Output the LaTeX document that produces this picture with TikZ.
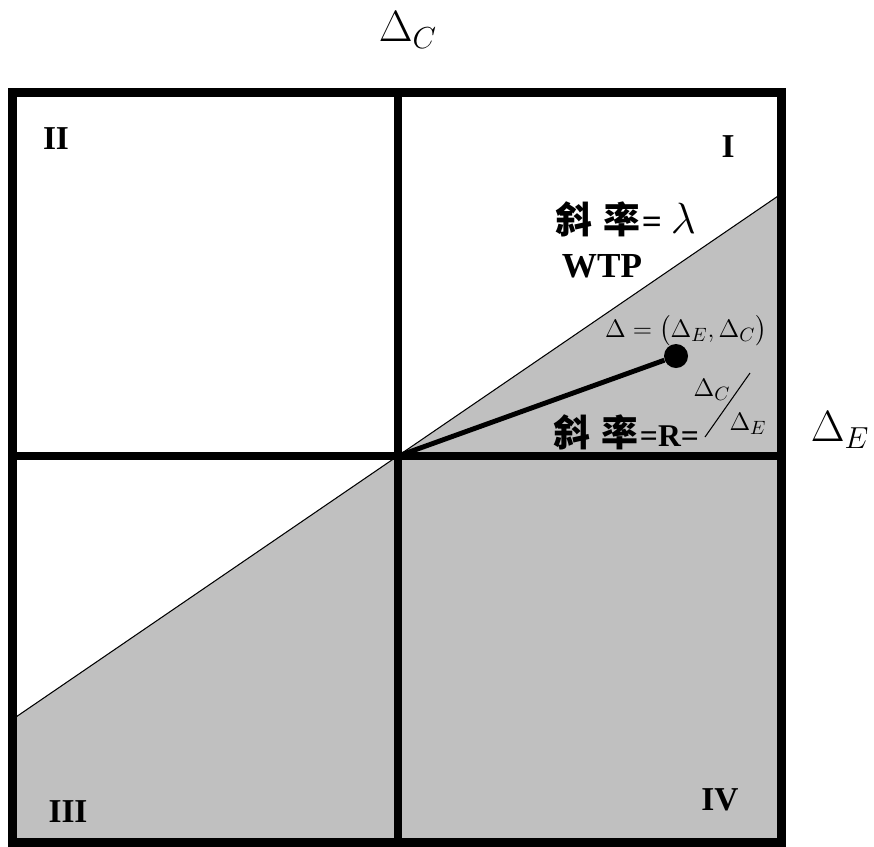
\documentclass[tikz,border=0pt]{standalone}
\usepackage{fontspec}
\usepackage{amsmath}
\usetikzlibrary{positioning,calc}
\newfontfamily\cjk{Noto Sans CJK TC}
\newfontfamily\labfont{Liberation Serif}
\definecolor{quadgray}{HTML}{C0C0C0}
\tikzset{
  quadframe/.style={draw=black,line width=5.1pt},
  quadlabel/.style={font=\labfont\bfseries\fontsize{19}{24}\selectfont,inner sep=0pt},
  axislabel/.style={font=\fontsize{25}{30}\selectfont,inner sep=0pt},
  wtpline/.style={draw=black,line width=0.6pt},
  ratioline/.style={draw=black,line width=2.8pt},
  slopetext/.style={font=\labfont\bfseries\fontsize{20}{24}\selectfont,inner sep=0pt},
  mathtext/.style={font=\fontsize{15}{18}\selectfont,inner sep=0pt}
}

\begin{document}
\begin{tikzpicture}[x=0.02cm,y=-0.02cm]
\useasboundingbox (0,0) rectangle (874,846);
\coordinate (O) at (398,456);
% region below the WTP line
\fill[quadgray] (13,719) -- (O) -- (781,194) -- (781,842) -- (13,842) -- cycle;
\draw[wtpline] (13,719) -- (781,194);
% frame and axes
\draw[quadframe] (12.5,92.5) rectangle (781.5,842);
\draw[quadframe] (398,92.5) -- (398,842);
\draw[quadframe] (12.5,456) -- (781.5,456);
\node[axislabel] (dc) at (408,30) {$\Delta_C$};
\node[axislabel] (de) at (840,430) {$\Delta_E$};
% quadrants
\node[quadlabel] (q1) at (728,147) {I};
\node[quadlabel] (q2) at (56,139) {II};
\node[quadlabel] (q3) at (68,812) {III};
\node[quadlabel] (q4) at (720,800) {IV};
% point and ratio
\node[circle,fill=black,inner sep=0pt,minimum size=0.48cm] (pt) at (676,356) {};
\draw[ratioline] (O) -- (pt);
\node[mathtext] (ptlab) at (686,331) {$\Delta=\bigl(\Delta_E,\Delta_C\bigr)$};
\node[slopetext,anchor=west] (lam) at (555,219) {{\cjk\bfseries\fontsize{21}{24}\selectfont 斜\hspace{0.3em}率}\hspace{0.05em}={\fontsize{34}{36}\selectfont\hspace{0.15em}$\lambda$}};
\node[slopetext] (wtp) at (602,266) {WTP};
\node[slopetext,anchor=west] (rr) at (553,432) {{\cjk\bfseries\fontsize{21}{24}\selectfont 斜\hspace{0.3em}率}\hspace{0.05em}{\fontsize{18}{22}\selectfont=R=}};
\node[mathtext] (fc) at (712,390) {$\Delta_C$};
\node[mathtext] (fe) at (748,424) {$\Delta_E$};
\draw[line width=0.6pt] (705,437) -- (750,373);
\end{tikzpicture}
\end{document}
